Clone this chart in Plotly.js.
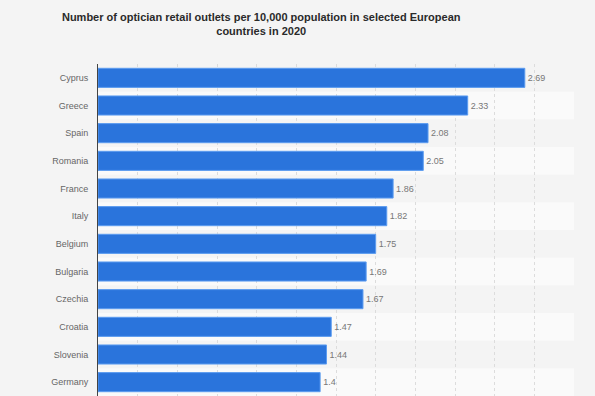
<!DOCTYPE html>
<html>
<head>
<meta charset="utf-8">
<script src="https://cdn.plot.ly/plotly-3.0.1.min.js"></script>
<style>
  html, body { margin: 0; padding: 0; background: #f4f4f4; }
  #chart { width: 595px; height: 396px; }
</style>
</head>
<body>
<div id="chart"></div>
<script>
const countries = ["Cyprus", "Greece", "Spain", "Romania", "France", "Italy", "Belgium", "Bulgaria", "Czechia", "Croatia", "Slovenia", "Germany"];
const outlets = [2.69, 2.33, 2.08, 2.05, 1.86, 1.82, 1.75, 1.69, 1.67, 1.47, 1.44, 1.4];
const valueLabels = outlets.map(v => String(v));
const titleText = "Number of optician retail outlets per 10,000 population in selected European<br>countries in 2020";

const stripes = countries.map((c, i) => i % 2 === 1 ? {
  type: "rect", xref: "paper", yref: "y", x0: 0, x1: 1, y0: i - 0.5, y1: i + 0.5,
  fillcolor: "#fafafa", line: { width: 0 }, layer: "below"
} : null).filter(Boolean);

const trace = {
  type: "bar",
  orientation: "h",
  y: countries,
  x: outlets,
  text: valueLabels,
  textposition: "outside",
  cliponaxis: false,
  textfont: { family: "Liberation Sans, Arial, sans-serif", size: 9, color: "#777" },
  marker: { color: "#2a74dc", line: { color: "#5c9cf0", width: 1 } },
  hoverinfo: "none"
};

const layout = {
  width: 595,
  height: 396,
  paper_bgcolor: "#f4f4f4",
  plot_bgcolor: "#f4f4f4",
  margin: { l: 98, r: 21, t: 64, b: 0, pad: 0 },
  bargap: 0.31,
  showlegend: false,
  font: { family: "Liberation Sans, Arial, sans-serif", color: "#666" },
  title: {
    text: titleText,
    font: { family: "Liberation Sans, Arial, sans-serif", size: 11, color: "#2a2a2a", weight: "bold" },
    x: 0.439, xref: "container", xanchor: "center",
    y: 0.948, yref: "container", yanchor: "middle"
  },
  xaxis: {
    range: [0, 3],
    dtick: 0.25,
    tick0: 0,
    showgrid: true,
    gridcolor: "#dcdcdc",
    griddash: "dot",
    gridwidth: 1,
    zeroline: false,
    showticklabels: false,
    showline: false,
    fixedrange: true
  },
  yaxis: {
    type: "category",
    autorange: "reversed",
    showgrid: false,
    showline: true,
    linecolor: "#444",
    linewidth: 1,
    ticks: "outside",
    ticklen: 7,
    tickcolor: "rgba(0,0,0,0)",
    tickfont: { family: "Liberation Sans, Arial, sans-serif", size: 9, color: "#666" },
    fixedrange: true
  },
  shapes: stripes
};

Plotly.newPlot("chart", [trace], layout, { displayModeBar: false, staticPlot: true });
</script>
</body>
</html>
